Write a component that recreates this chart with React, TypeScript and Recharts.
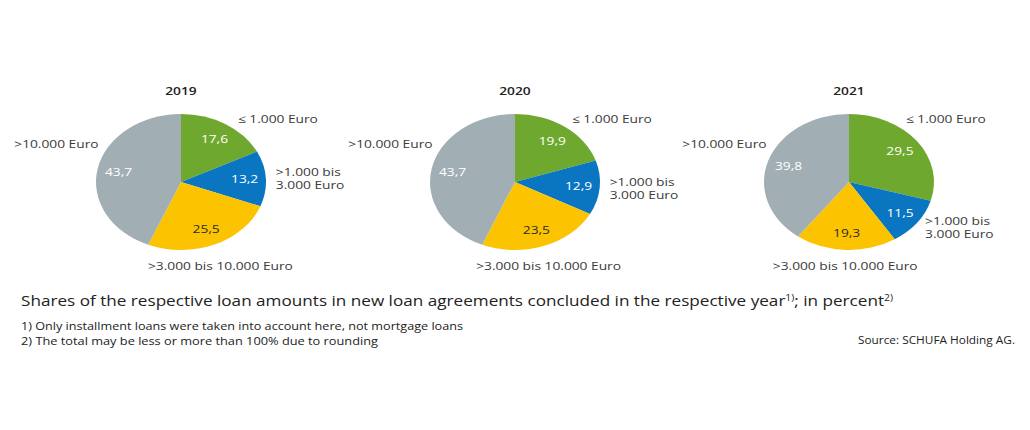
import React from 'react'
import { PieChart, Pie, Cell } from 'recharts'

// Loan amount shares per year, in percent
const years = ['2019', '2020', '2021']
const categories = ['≤ 1.000 Euro', '>1.000 bis|3.000 Euro', '>3.000 bis 10.000 Euro', '>10.000 Euro']
const shares2019 = [17.6, 13.2, 25.5, 43.7]
const shares2020 = [19.9, 12.9, 23.5, 43.7]
const shares2021 = [29.5, 11.5, 19.3, 39.8]
const sliceColors = ['#6fa82e', '#0a76c1', '#fcc300', '#a1aeb4']
const valueColors = ['#ffffff', '#ffffff', '#2b2b2b', '#ffffff']

const allShares = [shares2019, shares2020, shares2021]
const centers = [181, 515, 849]

const FONT = '"Open Sans", "Noto Sans", sans-serif'
const R = 68
const W = 290
const H = 210
const STRETCH = 1.25
const RAD = Math.PI / 180

const fmt = (v: number) => v.toFixed(1).replace('.', ',')

const renderLabel = (props: any) => {
    const { cx, cy, midAngle, index, value } = props
    const cos = Math.cos(-midAngle * RAD)
    const sin = Math.sin(-midAngle * RAD)

    // value inside the slice
    const ix = cx + R * 0.75 * cos
    const iy = cy + R * 0.75 * sin

    // category label outside
    let ox = 0
    let oy = 0
    let anchor: 'start' | 'middle' | 'end' = 'start'
    if (index === 0) {
        ox = cx + R * 0.67
        oy = cy - R * 0.93
    } else if (index === 1) {
        ox = cx + (R + 8) * cos
        oy = cy + (R + 8) * sin
    } else if (index === 2) {
        ox = cx + 80 * cos
        oy = cy + R * 1.235
        anchor = 'middle'
    } else {
        ox = cx - R * 0.97
        oy = cy - R * 0.56
        anchor = 'end'
    }
    const lines = categories[index].split('|')

    return (
        <g>
            <text x={ix} y={iy} fill={valueColors[index]} fontSize={11} fontFamily={FONT}
                textAnchor="middle" dominantBaseline="central">
                {fmt(value)}
            </text>
            <text x={ox} y={oy} fill="#3a3a3a" fontSize={11} fontFamily={FONT}
                textAnchor={anchor} dominantBaseline="central">
                {lines.map((line, i) => (
                    <tspan key={i} x={ox} dy={lines.length > 1 ? (i === 0 ? -6.5 : 13) : 0}>{line}</tspan>
                ))}
            </text>
        </g>
    )
}

function YearPie({ year, shares, centerX }: { year: string, shares: number[], centerX: number }) {
    const data = categories.map((name, i) => ({ name, value: shares[i] }))
    return (
        <div style={{
            position: 'absolute', left: centerX - W / 2, top: 70, width: W, height: H,
            transform: `scaleX(${STRETCH})`, transformOrigin: '50% 50%'
        }}>
            <PieChart width={W} height={H} margin={{ top: 0, right: 0, bottom: 0, left: 0 }}>
                <Pie
                    data={data}
                    dataKey="value"
                    cx={W / 2}
                    cy={112}
                    outerRadius={R}
                    startAngle={90}
                    endAngle={-270}
                    stroke="none"
                    labelLine={false}
                    label={renderLabel}
                    isAnimationActive={false}
                >
                    {data.map((d, i) => <Cell key={d.name} fill={sliceColors[i]} />)}
                </Pie>
            </PieChart>
            <div style={{
                position: 'absolute', top: 13, left: 0, width: '100%', textAlign: 'center',
                lineHeight: '16px', fontSize: 11, fontWeight: 600, fontFamily: FONT, color: '#222'
            }}>
                {year}
            </div>
        </div>
    )
}

export default function App() {
    return (
        <div style={{ position: 'absolute', left: 0, top: 0, width: 1030, height: 430, background: '#fff', overflow: 'hidden' }}>
            {years.map((y, i) => (
                <YearPie key={y} year={y} shares={allShares[i]} centerX={centers[i]} />
            ))}
            <svg width={1030} height={430} style={{ position: 'absolute', left: 0, top: 0, pointerEvents: 'none' }}>
                <text x={21} y={306} fontSize={15} fontFamily={FONT} fill="#222" textLength={872} lengthAdjust="spacingAndGlyphs">
                    Shares of the respective loan amounts in new loan agreements concluded in the respective year
                    <tspan dy={-5} fontSize={9}>1)</tspan>
                    <tspan dy={5}>; in percent</tspan>
                    <tspan dy={-5} fontSize={9}>2)</tspan>
                </text>
                <text x={21} y={330} fontSize={11} fontFamily={FONT} fill="#222" textLength={442} lengthAdjust="spacingAndGlyphs">
                    1) Only installment loans were taken into account here, not mortgage loans
                </text>
                <text x={21} y={345} fontSize={11} fontFamily={FONT} fill="#222" textLength={357} lengthAdjust="spacingAndGlyphs">
                    2) The total may be less or more than 100% due to rounding
                </text>
                <text x={858} y={344} fontSize={11} fontFamily={FONT} fill="#222" textLength={157} lengthAdjust="spacingAndGlyphs">
                    Source: SCHUFA Holding AG.
                </text>
            </svg>
        </div>
    )
}
